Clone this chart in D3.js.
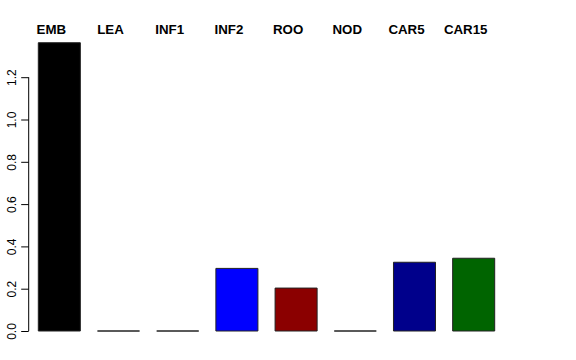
<!DOCTYPE html>
<html>
<head>
<meta charset="utf-8">
<script src="https://cdn.jsdelivr.net/npm/d3@7"></script>
<style>
  body { margin: 0; background: #fff; }
  svg { display: block; font-family: "Liberation Sans", Arial, Helvetica, sans-serif; }
</style>
</head>
<body>
<svg id="chart"></svg>
<script>
const categories = ['EMB', 'LEA', 'INF1', 'INF2', 'ROO', 'NOD', 'CAR5', 'CAR15'];
const values = [1.363, 0, 0, 0.296, 0.203, 0, 0.325, 0.344];
const colors = ['#000000', '#228b22', '#ff0000', '#0000ff', '#8b0000', '#ffa500', '#00008b', '#006400'];
const yTicks = [0, 0.2, 0.4, 0.6, 0.8, 1.0, 1.2];

const width = 576;
const height = 360;

const svg = d3.select('#chart')
  .attr('width', width)
  .attr('height', height);

const x = d3.scaleBand()
  .domain(categories)
  .range([38.3, 494.7])
  .paddingInner(0.29)
  .paddingOuter(0);

const y = d3.scaleLinear()
  .domain([0, 1.2])
  .range([331, 77.2]);

// bars as closed paths so zero-height bars still show their border
svg.selectAll('path.bar')
  .data(categories)
  .enter()
  .append('path')
  .attr('class', 'bar')
  .attr('d', (d, i) => {
    const x0 = x(d), x1 = x(d) + x.bandwidth();
    const y0 = y(0), y1 = y(values[i]);
    return `M${x0},${y0}H${x1}V${y1}H${x0}Z`;
  })
  .attr('fill', (d, i) => colors[i])
  .attr('stroke', '#222')
  .attr('stroke-width', 1);

// y axis, R style (labels rotated)
const yAxis = svg.append('g')
  .attr('transform', 'translate(28.7,0)')
  .call(d3.axisLeft(y).tickValues(yTicks).tickSize(7.5).tickPadding(4)
    .tickFormat(d3.format('.1f')));
yAxis.select('.domain').attr('stroke', '#000').attr('d', `M0,${y(0)}V${y(1.2)}`);
yAxis.selectAll('.tick line').attr('stroke', '#000');
yAxis.selectAll('.tick text')
  .attr('x', 0)
  .attr('dy', 0)
  .attr('font-size', 12)
  .attr('fill', '#000')
  .attr('text-anchor', 'middle')
  .attr('transform', 'translate(-12.5,0) rotate(-90)');

// category names along the top
svg.selectAll('text.name')
  .data(categories)
  .enter()
  .append('text')
  .attr('class', 'name')
  .attr('x', d => x(d) + x.bandwidth() / 2 - 8)
  .attr('y', 34)
  .attr('text-anchor', 'middle')
  .attr('font-size', 13.3)
  .attr('font-weight', 'bold')
  .text(d => d);
</script>
</body>
</html>
